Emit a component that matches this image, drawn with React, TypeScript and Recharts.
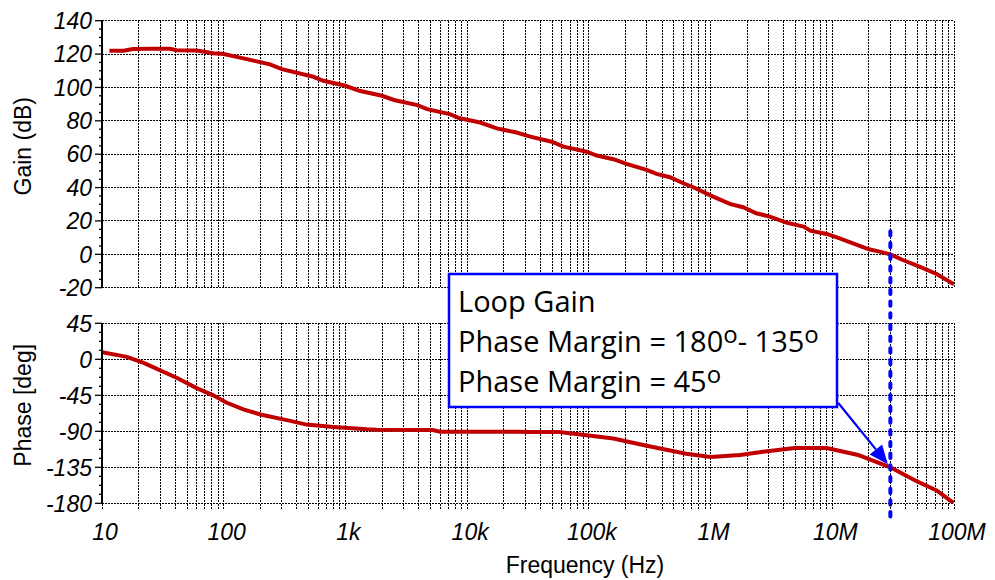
import React from 'react';
import { LineChart, Line, XAxis, YAxis, CartesianGrid, ReferenceLine, Label } from 'recharts';

// ---- axis tick values / labels ----
const decadeTicks = [10, 100, 1e3, 1e4, 1e5, 1e6, 1e7, 1e8];
const decadeLabels = ['10', '100', '1k', '10k', '100k', '1M', '10M', '100M'];
const minorMultipliers = [2, 3, 4, 5, 6, 7, 8, 9];
const gainMajorTicks = [-20, 0, 20, 40, 60, 80, 100, 120, 140];
const phaseMajorTicks = [-180, -135, -90, -45, 0, 45];

// ---- loop gain magnitude (dB) ----
const gainFreq = [
  11.5, 15, 18, 25, 36, 41, 60, 82, 100, 155, 240, 300, 545, 658, 1000, 1300, 2000, 2500, 3900, 4700,
  7200, 8700, 12800, 17500, 25500, 33000, 49500, 62000, 96000, 116000, 159000, 204000, 298000, 360000,
  464000, 597000, 721000, 1.05e6, 1.44e6, 1.85e6, 2.38e6, 3.06e6, 4.2e6, 5.8e6, 6.6e6, 9e6, 11.5e6,
  14.8e6, 20e6, 24.5e6, 30e6, 38e6, 52e6, 72e6, 1e8,
];
const gainDb = [
  122, 122, 123, 123.2, 123.2, 122.3, 122.2, 120.5, 120, 117, 113.8, 111, 106.4, 104, 101, 98, 95, 92.5, 89.4, 87,
  84, 81.5, 79, 75.5, 73, 70.5, 67.5, 64.5, 61.5, 59.2, 57, 54.2, 50.6, 48.2,
  46.2, 42.6, 40.2, 34.6, 30.2, 28.2, 24.6, 22.6, 19, 16.6, 14.2, 12.2, 9.6,
  6.6, 3, 1.6, 0, -3.4, -7.4, -11.8, -18,
];

// ---- loop gain phase (deg) ----
const phaseFreq = [
  10, 16, 22, 41, 60, 82, 105, 145, 200, 330, 480, 795, 1500, 1800, 5200, 6000, 25600, 33000, 57000,
  96000, 159000, 298000, 630000, 1e6, 1.75e6, 2.7e6, 4.9e6, 9e6, 16.3e6, 30e6, 48e6, 72e6, 1e8,
];
const phaseDeg = [
  9, 3, -4.6, -23, -36, -45, -54, -62.5, -69, -76, -81.6, -84.6, -87.5, -88, -88.5, -90.5, -90.5, -91, -91,
  -95, -99, -108, -118, -122, -119.6, -115.5, -111, -111, -119.6, -135, -151.5, -164, -180,
];

// ---- annotation ----
const crossoverFreq = 3e7;
const crossoverPhase = -135;
const markerTopPhase = 160; // dashed marker starts up in the gain plot
const markerBottomPhase = -203; // and ends below the phase plot
const arrowStart = { f: 1.12e7, p: -54.6 };
const annotationTitle = 'Loop Gain';
const annotationLine2 = ['Phase Margin = 180', '- 135'];
const annotationLine3 = 'Phase Margin = 45';
const DEG = 'o';

const RED = '#c00000';
const BLUE = '#0000ff';
const TICK_FONT = '"Liberation Sans", Arial, sans-serif';

const allFreqTicks: number[] = [];
decadeTicks.forEach((d, i) => {
  allFreqTicks.push(d);
  if (i < decadeTicks.length - 1) minorMultipliers.forEach((m) => allFreqTicks.push(d * m));
});
allFreqTicks.sort((a, b) => a - b);

const gainTicks: number[] = [];
for (let v = -20; v <= 140; v += 5) gainTicks.push(v);
const phaseTicks: number[] = [];
for (let v = -180; v <= 45; v += 11.25) phaseTicks.push(v);

const gainData = gainFreq.map((f, i) => ({ f, g: gainDb[i] }));
const phaseData = phaseFreq.map((f, i) => ({ f, p: phaseDeg[i] }));

const Y_TICK_SIZE = 7;
const Y_TICK_MARGIN = 3;

const makeYTick = (majors: number[]) => (props: any) => {
  const { x, y, payload } = props;
  const axisX = x + Y_TICK_SIZE + Y_TICK_MARGIN;
  const major = majors.some((m) => Math.abs(m - payload.value) < 1e-6);
  return (
    <g>
      <line x1={axisX - (major ? 7 : 3)} x2={axisX} y1={y} y2={y} stroke="#000" strokeWidth={1.3} />
      {major && (
        <text x={x} y={y} dy="0.36em" textAnchor="end" fontStyle="italic" fontSize={23} fontFamily={TICK_FONT} fill="#000">
          {payload.value}
        </text>
      )}
    </g>
  );
};

const XTick = (props: any) => {
  const { x, y, payload } = props;
  const idx = decadeTicks.findIndex((d) => Math.abs(d - payload.value) / d < 1e-6);
  if (idx < 0) return <g />;
  return (
    <text x={x + 3} y={y} dy="0.71em" textAnchor="middle" fontStyle="italic" fontSize={23} fontFamily={TICK_FONT} fill="#000">
      {decadeLabels[idx]}
    </text>
  );
};

const EmptyTick = () => <g />;

const yTitle = (title: string) => (p: any) => {
  const vb = p.viewBox;
  const cx = vb.x + 31;
  const cy = vb.y + vb.height / 2 - 8;
  return (
    <text x={cx} y={cy} transform={`rotate(-90 ${cx} ${cy})`} textAnchor="middle" fontSize={23} fontFamily={TICK_FONT} fill="#000">
      {title}
    </text>
  );
};

const xTitle = (p: any) => {
  const vb = p.viewBox;
  return (
    <text x={vb.x + vb.width / 2 + 57} y={vb.y + vb.height - 7} textAnchor="middle" fontSize={23} fontFamily={TICK_FONT} fill="#000">
      Frequency (Hz)
    </text>
  );
};

const ArrowShape = (p: any) => {
  const { x1, y1, x2, y2 } = p;
  const ang = Math.atan2(y2 - y1, x2 - x1);
  const tx = x2 - 4 * Math.cos(ang);
  const ty = y2 - 4 * Math.sin(ang);
  const L = 19;
  const W = 8;
  const bx = tx - L * Math.cos(ang);
  const by = ty - L * Math.sin(ang);
  const px = -Math.sin(ang) * W;
  const py = Math.cos(ang) * W;
  return (
    <g>
      <line x1={x1} y1={y1} x2={bx} y2={by} stroke={BLUE} strokeWidth={2.2} />
      <polygon points={`${tx},${ty} ${bx + px},${by + py} ${bx - px},${by - py}`} fill={BLUE} />
    </g>
  );
};

const W = 995;
const H = 580;

const gridProps = {
  stroke: '#000',
  strokeDasharray: '2 1',
  strokeWidth: 1,
  shapeRendering: 'crispEdges',
} as any;

export default function App() {
  return (
    <div style={{ position: 'absolute', left: 0, top: 0, width: W, height: H, background: '#fff' }}>
      {/* Gain plot */}
      <div style={{ position: 'absolute', left: 0, top: 0 }}>
        <LineChart width={W} height={H} data={gainData} margin={{ top: 20.7, right: 41, bottom: 292.3, left: 0 }}>
          <CartesianGrid {...gridProps} verticalValues={allFreqTicks} horizontalValues={gainMajorTicks} />
          <XAxis
            dataKey="f"
            type="number"
            scale="log"
            domain={[10, 1e8]}
            allowDataOverflow
            ticks={allFreqTicks}
            interval={0}
            height={0}
            tick={<EmptyTick />}
            axisLine={false}
            tickLine={false}
          />
          <YAxis
            type="number"
            domain={[-20, 140]}
            allowDataOverflow
            ticks={gainTicks}
            interval={0}
            width={102}
            tickSize={Y_TICK_SIZE}
            tickMargin={Y_TICK_MARGIN}
            tickLine={false}
            tick={makeYTick(gainMajorTicks)}
            axisLine={{ stroke: '#000', strokeWidth: 2 }}
          >
            <Label content={yTitle('Gain (dB)')} />
          </YAxis>
          <Line type="linear" dataKey="g" stroke={RED} strokeWidth={4} dot={false} isAnimationActive={false} />
        </LineChart>
      </div>

      {/* Phase plot */}
      <div style={{ position: 'absolute', left: 0, top: 0 }}>
        <LineChart width={W} height={H} data={phaseData} margin={{ top: 323.3, right: 41, bottom: 0, left: 0 }}>
          <CartesianGrid {...gridProps} verticalValues={allFreqTicks} horizontalValues={phaseMajorTicks} />
          <XAxis
            dataKey="f"
            type="number"
            scale="log"
            domain={[10, 1e8]}
            allowDataOverflow
            ticks={allFreqTicks}
            interval={0}
            height={76.7}
            tickSize={6}
            tickMargin={14}
            tickLine={{ stroke: '#000', strokeDasharray: '2 1', shapeRendering: 'crispEdges' } as any}
            axisLine={false}
            tick={<XTick />}
          >
            <Label content={xTitle} />
          </XAxis>
          <YAxis
            type="number"
            domain={[-180, 45]}
            allowDataOverflow
            ticks={phaseTicks}
            interval={0}
            width={102}
            tickSize={Y_TICK_SIZE}
            tickMargin={Y_TICK_MARGIN}
            tickLine={false}
            tick={makeYTick(phaseMajorTicks)}
            axisLine={{ stroke: '#000', strokeWidth: 2 }}
          >
            <Label content={yTitle('Phase [deg]')} />
          </YAxis>
          <Line type="linear" dataKey="p" stroke={RED} strokeWidth={4} dot={false} isAnimationActive={false} />
          <ReferenceLine
            ifOverflow="visible"
            segment={[
              { x: crossoverFreq, y: markerTopPhase },
              { x: crossoverFreq, y: markerBottomPhase },
            ]}
            stroke={BLUE}
            strokeWidth={4}
            strokeDasharray="4.3 7.4"
            strokeLinecap="round"
          />
          <ReferenceLine
            ifOverflow="visible"
            segment={[
              { x: arrowStart.f, y: arrowStart.p },
              { x: crossoverFreq, y: crossoverPhase },
            ]}
            shape={ArrowShape}
          />
        </LineChart>
      </div>

      {/* Annotation box */}
      <svg width={W} height={H} style={{ position: 'absolute', left: 0, top: 0, pointerEvents: 'none' }}>
        <rect x={449} y={274} width={388} height={133} fill="#fff" stroke={BLUE} strokeWidth={2.5} />
        <g fontFamily='"Open Sans", sans-serif' fontSize={29} fill="#000">
          <text x={458} y={312}>{annotationTitle}</text>
          <text x={458} y={352}>
            {annotationLine2[0]}
            <tspan dy={-9} fontSize={24}>{DEG}</tspan>
            <tspan dy={9}>{annotationLine2[1]}</tspan>
            <tspan dy={-9} fontSize={24}>{DEG}</tspan>
          </text>
          <text x={458} y={392}>
            {annotationLine3}
            <tspan dy={-9} fontSize={24}>{DEG}</tspan>
          </text>
        </g>
      </svg>
    </div>
  );
}
